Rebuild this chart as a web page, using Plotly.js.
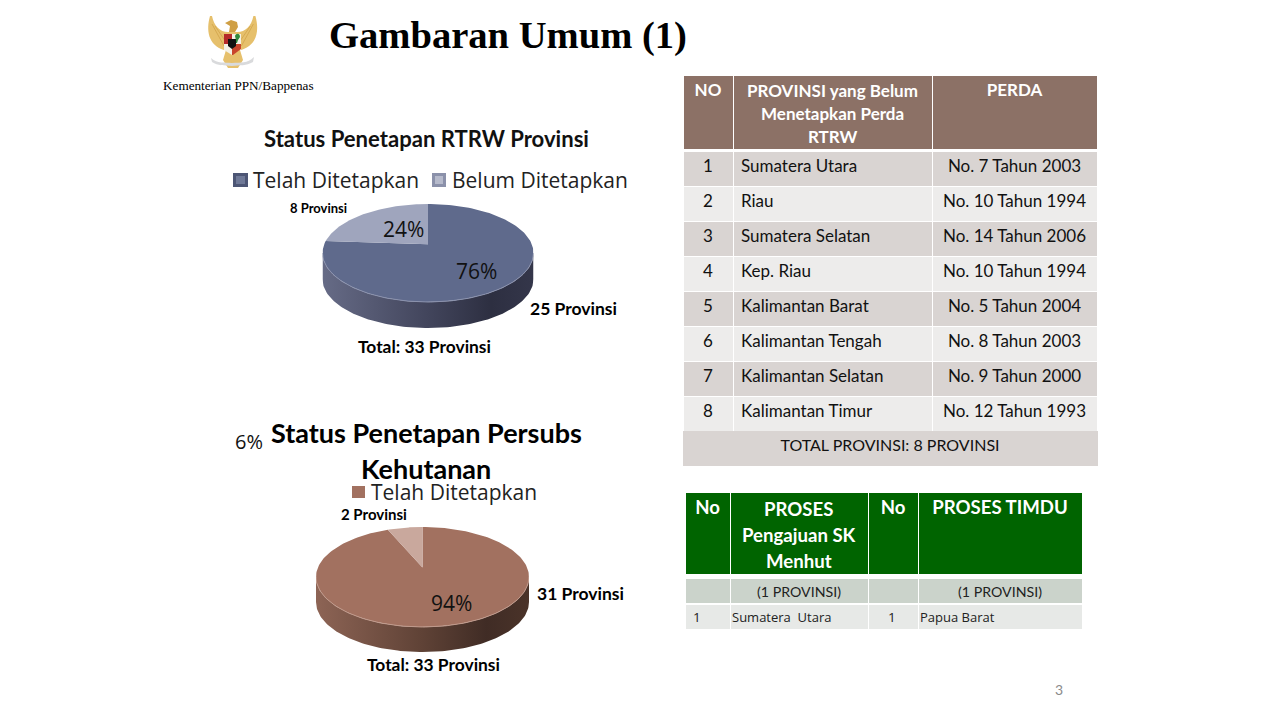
<!DOCTYPE html>
<html><head><meta charset="utf-8">
<script src="https://cdn.plot.ly/plotly-3.0.1.min.js"></script>
<style>html,body{margin:0;padding:0;background:#fff;overflow:hidden}#c{width:1280px;height:720px}</style>
</head><body><div id="c"></div>
<script>
// ---- data ----
const rtrwLabels = ['Telah Ditetapkan','Belum Ditetapkan'];
const rtrwValues = [25, 8];
const persubsLabels = ['Telah Ditetapkan','Belum Ditetapkan'];
const persubsValues = [31, 2];
const perdaHeader = ['NO','','PERDA'];
const perdaHeaderLines = ['PROVINSI yang Belum','Menetapkan Perda','RTRW'];
const perdaNo = ['1','2','3','4','5','6','7','8'];
const perdaProvinsi = ['Sumatera Utara','Riau','Sumatera Selatan','Kep. Riau','Kalimantan Barat','Kalimantan Tengah','Kalimantan Selatan','Kalimantan Timur'];
const perdaNomor = ['No. 7 Tahun 2003','No. 10 Tahun 1994','No. 14 Tahun 2006','No. 10 Tahun 1994','No. 5 Tahun 2004','No. 8 Tahun 2003','No. 9 Tahun 2000','No. 12 Tahun 1993'];
const perdaTotal = 'TOTAL PROVINSI: 8 PROVINSI';
const prosesHeader = ['No','','No','PROSES TIMDU'];
const prosesHeaderLines = ['PROSES','Pengajuan SK','Menhut'];
const prosesCount = ['', '(1 PROVINSI)', '', '(1 PROVINSI)'];
const prosesRow = ['1','Sumatera  Utara','1','Papua Barat'];

// ---- helpers ----
const W = 1280, H = 720;
const fx = p => p / W, fy = p => 1 - p / H;
const SANS = 'Lato, Carlito, Calibri, sans-serif';
const WIDE = '"Open Sans", sans-serif';
const BACK_SKEW = 0.87;

function arc(a0, a1, n) {           // clockwise from 12 o'clock, unit ellipse
  const xs = [], ys = [];
  for (let i = 0; i <= n; i++) {
    const t = a0 + (a1 - a0) * i / n;
    xs.push(Math.sin(t)); ys.push(Math.cos(t));
  }
  return [xs, ys];
}
function pieTraces(values, ax, c) {
  const total = values[0] + values[1];
  const small = 2 * Math.PI * values[1] / total * BACK_SKEW;
  const xa = 'x' + ax, ya = 'y' + ax;
  const base = {xaxis: xa, yaxis: ya, type: 'scatter', mode: 'lines', fill: 'toself', hoverinfo: 'skip', showlegend: false, line: {width: 0}};
  const [fx0, fy0] = arc(Math.PI / 2, 3 * Math.PI / 2, 120);
  const wallX = fx0.concat(fx0.slice().reverse());
  const wallY = fy0.concat(fy0.slice().reverse().map(v => v - c.depth));
  const wall = Object.assign({}, base, {x: wallX, y: wallY, fillcolor: c.wall[1],
    fillgradient: {type: 'horizontal', colorscale: [[0, c.wall[0]], [0.5, c.wall[1]], [0.8, c.wall[2]], [1, c.wall[3]]]}});
  const [bx, by] = arc(0, 2 * Math.PI - small, 200);
  const big = Object.assign({}, base, {x: [0].concat(bx), y: [c.apex].concat(by), fillcolor: c.top});
  const [sx, sy] = arc(2 * Math.PI - small, 2 * Math.PI, 60);
  const sm = Object.assign({}, base, {x: [0].concat(sx), y: [c.apex].concat(sy), fillcolor: c.wedge});
  const rim = {xaxis: xa, yaxis: ya, type: 'scatter', mode: 'lines', hoverinfo: 'skip', showlegend: false,
    x: fx0, y: fy0, line: {color: c.rim, width: 1}};
  return [wall, big, sm, rim];
}
function txt(text, x, y, family, size, color, weight, anchor) {
  return {text, x, y, xref: 'x', yref: 'y', showarrow: false, xanchor: anchor || 'center', yanchor: 'middle',
    font: {family, size, color, weight: weight || 400}};
}
const pct = (vals, i) => Math.round(100 * vals[i] / (vals[0] + vals[1])) + '%';
function headerOnly(x0, x1, y0, y1, widths, values, fill, lineColor, font, h) {
  return {type: 'table', domain: {x: [fx(x0), fx(x1)], y: [fy(y1 + 1), fy(y0)]}, columnwidth: widths,
    header: {values, height: h, align: 'center', fill: {color: fill}, line: {color: lineColor, width: 1}, font},
    cells: {values: values.map(() => []), height: 0}};
}

// ---- traces ----
const p1 = {depth: 26 / 49, apex: 0.18, top: '#5f6a8c', wedge: '#9fa5bd', rim: '#8b92ad', wall: ['#666b86', '#42455c', '#2d2f41', '#34364a']};
const p2 = {depth: 25 / 50, apex: 0.19, top: '#a27160', wedge: '#c9a89d', rim: '#c09a8c', wall: ['#8d6455', '#5f4236', '#402c25', '#4a3329']};

const rowFill = perdaNo.map((_, i) => i % 2 ? '#edeceb' : '#d9d4d2');
const perdaWidths = [50, 199, 165];
const bodyFont = {family: SANS, size: 17, color: '#111'};
const perdaHead = headerOnly(683, 1097, 75, 149, perdaWidths, perdaHeader, '#8c7166', '#fff',
  {family: SANS, size: 17, color: '#fff', weight: 700}, 74);
const perdaBody = {type: 'table', domain: {x: [fx(683), fx(1097)], y: [fy(432), fy(151)]},
  columnwidth: perdaWidths,
  header: {values: ['', '', ''], height: 0, line: {width: 0}, fill: {color: 'rgba(0,0,0,0)'}, font: {size: 1}},
  cells: {values: [perdaNo, perdaProvinsi, perdaNomor], height: 35, align: ['center', 'left', 'center'],
    fill: {color: [rowFill, rowFill, rowFill]}, line: {color: '#fff', width: 1}, font: bodyFont}};
const totalTable = headerOnly(683, 1097, 431, 465, [1], [perdaTotal], '#d9d4d2', '#d9d4d2',
  {family: SANS, size: 16, color: '#111'}, 34);
const prosesWidths = [45, 138, 50, 164];
const prosesHead = headerOnly(685, 1082, 492, 574, prosesWidths, prosesHeader, '#006400', '#fff',
  {family: SANS, size: 18.6, color: '#fff', weight: 700}, 82);
const prosesCountTbl = headerOnly(685, 1082, 578, 603, prosesWidths, prosesCount, '#cbd3cb', '#fff',
  {family: SANS, size: 14.2, color: '#222'}, 25);
const prosesRowTbl = headerOnly(685, 1082, 604, 629, prosesWidths, ['', '', '', ''], '#e7e9e7', '#fff',
  {family: SANS, size: 14, color: '#222'}, 25);

const data = [
  ...pieTraces(rtrwValues, '2', p1),
  ...pieTraces(persubsValues, '3', p2),
  perdaHead, perdaBody, totalTable, prosesHead, prosesCountTbl, prosesRowTbl,
  {type: 'scatter', x: [0, W], y: [0, H], mode: 'markers', marker: {opacity: 0}, hoverinfo: 'skip', showlegend: false}
];

// ---- emblem & legend swatches ----
const GOLD = '#e6c06c', GOLD2 = '#cf9f45';
const M = 465.4;
function wing(s) {
  const X = v => s ? M - v : v;
  return `M${X(210)},16 C${X(206)},30 ${X(208)},45 ${X(224)},50 L${X(229)},45 L${X(228)},32 C${X(220)},32 ${X(214)},26 ${X(212)},16 Z`;
}
function feather(s, a, b, c, d) {
  const X = v => s ? M - v : v;
  return `M${X(a)},${b} L${X(c)},${d}`;
}
function sp(path, fill) {
  return {type: 'path', xref: 'x', yref: 'y', path, fillcolor: fill, line: {width: 0}, layer: 'above'};
}
function stroke(path, color) {
  return {type: 'path', xref: 'x', yref: 'y', path, line: {color, width: 0.7}, layer: 'above'};
}
function rect(x0, y0, x1, y1, fill) {
  return {type: 'rect', xref: 'x', yref: 'y', x0, y0, x1, y1, fillcolor: fill, line: {width: 0}, layer: 'above'};
}
const shapes = [
  sp(wing(false), GOLD), sp(wing(true), GOLD),
  stroke(feather(false, 212, 24, 224, 46), GOLD2), stroke(feather(false, 215, 26, 226, 42), GOLD2),
  stroke(feather(true, 212, 24, 224, 46), GOLD2), stroke(feather(true, 215, 26, 226, 42), GOLD2),
  rect(225, 32, 240, 50, GOLD),
  sp('M225,23 L231,20 L237,22 L238,27 L235,32 L229,32 L230,26 Z', GOLD2),
  sp('M226,50 L240,50 L243,60 L238,68 L228,68 L223,60 Z', GOLD),
  sp('M211,58 C218,64 224,62 232,63 C241,62 247,64 254,57 L253,62 C246,66 240,65 232,66 C224,65 218,66 212,62 Z', '#d9dadc'),
  rect(224, 34, 232, 44, '#b52a2a'), rect(232, 34, 241, 44, '#f4f1e6'),
  rect(224, 44, 232, 50, '#f4f1e6'), sp('M232,44 L241,44 L241,49 L233,55 L232,55 Z', '#c8452c'),
  sp('M224,50 L232,50 L232,55 Z', '#f4f1e6'),
  sp('M228,39 L236,39 L236,46 L232,49 L228,46 Z', '#111'),
  sp('M235,36 C236,33 240,33 240,37 L238,40 L237,43 L236,43 L236,40 Z', '#2f8a3c'),
  // legend swatches
  rect(233, 173, 248, 187, '#4d5675'), rect(236, 176, 245, 184, '#6f7997'),
  rect(432, 173, 446, 187, '#8b91aa'), rect(435, 176, 443, 184, '#b6bacb'),
  rect(352, 486, 365, 498, '#a27160')
];

// ---- text ----
const SERIF = '"Liberation Serif", serif';
const ann = [
  txt('Gambaran Umum (1)', 507.5, 35, SERIF, 38.6, '#000', 700),
  txt('Kementerian PPN/Bappenas', 238, 85, SERIF, 13.2, '#000'),
  txt('Status Penetapan RTRW Provinsi', 426, 138, SANS, 22.1, '#111', 700),
  txt(rtrwLabels[0], 251, 180, WIDE, 21, '#222', 400, 'left'),
  txt(rtrwLabels[1], 450, 180, WIDE, 21, '#222', 400, 'left'),
  txt('8 Provinsi', 318.5, 208, SANS, 13, '#000', 700),
  txt(pct(rtrwValues, 1), 403, 229, WIDE, 21, '#111'),
  txt(pct(rtrwValues, 0), 476, 271, WIDE, 21, '#111'),
  txt('25 Provinsi', 573.5, 308, SANS, 17.5, '#000', 700),
  txt('Total: 33 Provinsi', 424.5, 346, SANS, 17.4, '#000', 700),
  txt(pct(persubsValues, 1), 249, 441, WIDE, 20, '#111'),
  txt('Status Penetapan Persubs', 426, 432, SANS, 27, '#000', 700),
  txt('Kehutanan', 426, 468, SANS, 27, '#000', 700),
  txt(persubsLabels[0], 369, 492, WIDE, 21, '#222', 400, 'left'),
  txt('2 Provinsi', 373.5, 514, SANS, 15, '#000', 700),
  txt('31 Provinsi', 580.5, 593, SANS, 17.5, '#000', 700),
  txt(pct(persubsValues, 0), 451, 603, WIDE, 21, '#111'),
  txt('Total: 33 Provinsi', 433.5, 664, SANS, 17.4, '#000', 700),
  ...perdaHeaderLines.map((t, i) => txt(t, 832.5, 90 + 23 * i, SANS, 17, '#fff', 700)),
  ...prosesHeaderLines.map((t, i) => txt(t, 798.5, 509 + 26 * i, SANS, 18.6, '#fff', 700)),
  txt(prosesRow[0], 697, 617, WIDE, 13.5, '#222'),
  txt(prosesRow[1], 730, 617, WIDE, 13, '#222', 400, 'left'),
  txt(prosesRow[2], 892, 617, WIDE, 13.5, '#222'),
  txt(prosesRow[3], 917.5, 617, WIDE, 13, '#222', 400, 'left'),
  txt('3', 1059, 689.5, SANS, 14, '#8b8b8b')
];

const hide = {visible: false, fixedrange: true};
const layout = {
  width: W, height: H, margin: {l: 0, r: 0, t: 0, b: 0}, paper_bgcolor: '#fff', plot_bgcolor: 'rgba(0,0,0,0)', showlegend: false,
  xaxis: Object.assign({range: [0, W], domain: [0, 1]}, hide),
  yaxis: Object.assign({range: [H, 0], domain: [0, 1]}, hide),
  xaxis2: Object.assign({range: [-1, 1], domain: [fx(322.5), fx(533.5)], anchor: 'y2'}, hide),
  yaxis2: Object.assign({range: [-1 - p1.depth, 1], domain: [fy(328), fy(204)], anchor: 'x2'}, hide),
  xaxis3: Object.assign({range: [-1, 1], domain: [fx(316), fx(529)], anchor: 'y3'}, hide),
  yaxis3: Object.assign({range: [-1 - p2.depth, 1], domain: [fy(652), fy(527)], anchor: 'x3'}, hide),
  shapes, annotations: ann
};
Plotly.newPlot('c', data, layout, {displayModeBar: false, staticPlot: true});
</script></body></html>
